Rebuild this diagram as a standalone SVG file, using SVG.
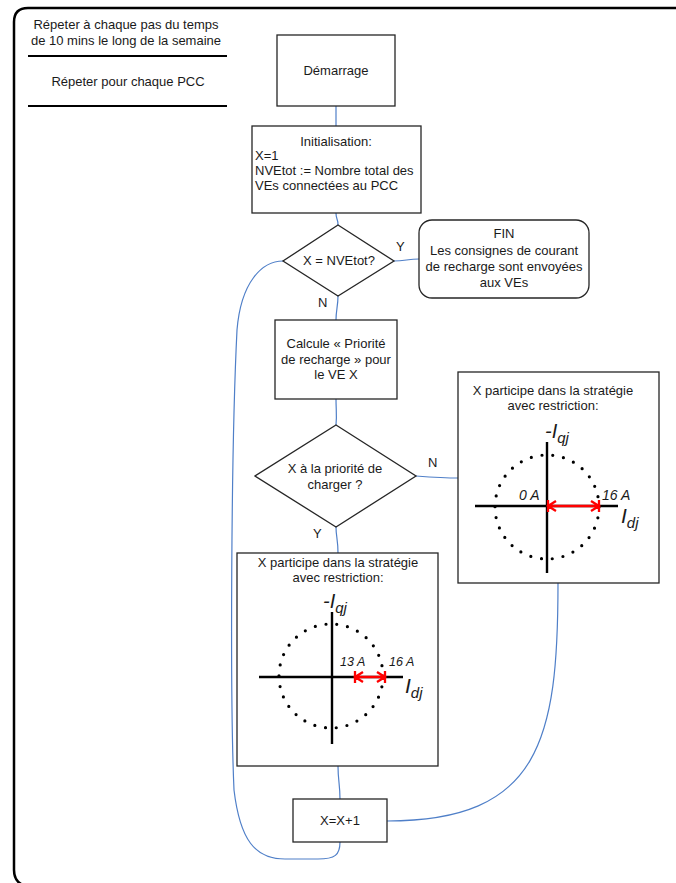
<svg xmlns="http://www.w3.org/2000/svg" width="676" height="883" viewBox="0 0 676 883">
<style>
text{font-family:"Liberation Sans",Arial,sans-serif;font-size:13px;fill:#1a1a1a}
.c{text-anchor:middle}
.box{fill:#fff;stroke:#262626;stroke-width:1.3}
.con{fill:none;stroke:#4f7fc8;stroke-width:1.2}
.axis{stroke:#000;stroke-width:2.4;fill:none}
.dots{fill:none;stroke:#000;stroke-width:3.2;stroke-linecap:round;stroke-dasharray:0 10.89}
.red{fill:none;stroke:#ff0000;stroke-width:2.3}
.it{font-style:italic}
.big{font-style:italic;font-size:20px}
.bigd{font-style:italic;font-size:21px}
.sub{font-style:italic;font-size:15px}
</style>
<g id="frame">
<path d="M676,8 L28,8 Q14,8 14,22 L14,870 Q14,883 26,886" fill="none" stroke="#000" stroke-width="2.5"/>
<text class="c" x="126" y="29">Répeter à chaque pas du temps</text>
<text class="c" x="126" y="45">de 10 mins le long de la semaine</text>
<line x1="28" y1="56" x2="227" y2="56" stroke="#000" stroke-width="2.2"/>
<text class="c" x="128" y="86">Répeter pour chaque PCC</text>
<line x1="28" y1="106" x2="227" y2="106" stroke="#000" stroke-width="2.2"/>
</g>
<g id="connectors">
<path class="con" d="M336,106 L336,126"/>
<path class="con" d="M336,213 C336,220 338,218 338,225"/>
<path class="con" d="M394,261 C405,261 408,259 419,259"/>
<path class="con" d="M338,296 C338,306 336,310 336,320"/>
<path class="con" d="M336,399 C336,410 337,415 336,425"/>
<path class="con" d="M416,476 C430,477 445,478 458,478"/>
<path class="con" d="M336,527 C336,536 338,540 338,553"/>
<path class="con" d="M338,766 C338,780 340,785 340,799"/>
<path class="con" d="M558,583 C558,740 540,821 387,821"/>
<path class="con" d="M340,842 C340,855 335,859 318,859 L285,859 C255,859 240,840 234,790 C230,700 231,450 237,330 C241,282 262,261 283,261"/>
</g>
<g id="demarrage">
<rect class="box" x="277" y="35" width="118" height="71"/>
<text class="c" x="336" y="75">Démarrage</text>
</g>
<g id="init">
<rect class="box" x="252" y="126" width="169" height="87"/>
<text class="c" x="336" y="146">Initialisation:</text>
<text x="255" y="160">X=1</text>
<text x="255" y="175">NVEtot := Nombre total des</text>
<text x="255" y="190">VEs connectées au PCC</text>
</g>
<g id="test1">
<polygon class="box" points="338,225 394,261 338,296 283,261"/>
<text class="c" x="339" y="265">X = NVEtot?</text>
<text x="396" y="251">Y</text>
<text x="318" y="307">N</text>
</g>
<g id="fin">
<rect class="box" x="419" y="220" width="170" height="78" rx="13" ry="13"/>
<text class="c" x="504" y="238">FIN</text>
<text class="c" x="504" y="255">Les consignes de courant</text>
<text class="c" x="504" y="271">de recharge sont envoyées</text>
<text class="c" x="504" y="287">aux VEs</text>
</g>
<g id="calcule">
<rect class="box" x="275" y="320" width="122" height="79"/>
<text class="c" x="336" y="348">Calcule « Priorité</text>
<text class="c" x="336" y="364">de recharge » pour</text>
<text class="c" x="336" y="379">le VE X</text>
</g>
<g id="test2">
<polygon class="box" points="336,425 416,476 336,527 255,476"/>
<text class="c" x="335" y="473">X à la priorité de</text>
<text class="c" x="335" y="489">charger ?</text>
<text x="428" y="467">N</text>
<text x="313" y="538">Y</text>
</g>
<g id="restriction-0A">
<rect class="box" x="458" y="372" width="201" height="211"/>
<text class="c" x="553" y="395">X participe dans la stratégie</text>
<text class="c" x="553" y="410">avec restriction:</text>
<line class="axis" x1="547" y1="442" x2="547" y2="573"/>
<line class="axis" x1="475" y1="506" x2="618" y2="506"/>
<circle class="dots" cx="547" cy="507" r="52"/>
<path class="red" d="M548,506 L599,506 M548,500 L548,512 M556,501 L548,506 L556,511 M599,500 L599,512 M591,501 L599,506 L591,511"/>
<text x="545" y="438"><tspan class="big">-I</tspan><tspan class="sub" dy="5">qj</tspan></text>
<text class="it" x="519" y="500" style="font-size:14px">0 A</text>
<text class="it" x="602" y="500" style="font-size:14px">16 A</text>
<text x="621" y="523"><tspan class="bigd">I</tspan><tspan class="sub" dy="5">dj</tspan></text>
</g>
<g id="restriction-13A">
<rect class="box" x="237" y="553" width="201" height="213"/>
<text class="c" x="338" y="567">X participe dans la stratégie</text>
<text class="c" x="338" y="582">avec restriction:</text>
<line class="axis" x1="332" y1="612" x2="332" y2="744"/>
<line class="axis" x1="259" y1="677" x2="403" y2="677"/>
<circle class="dots" cx="331" cy="676" r="52"/>
<path class="red" d="M355,677 L385,677 M355,671 L355,683 M363,672 L355,677 L363,682 M385,671 L385,683 M377,672 L385,677 L377,682"/>
<text x="323" y="608"><tspan class="big">-I</tspan><tspan class="sub" dy="5">qj</tspan></text>
<text class="it" x="340" y="666" style="font-size:12.5px">13 A</text>
<text class="it" x="389" y="666" style="font-size:12.5px">16 A</text>
<text x="405" y="693"><tspan class="bigd">I</tspan><tspan class="sub" dy="5">dj</tspan></text>
</g>
<g id="increment">
<rect class="box" x="293" y="799" width="94" height="43"/>
<text class="c" x="340" y="825">X=X+1</text>
</g>
</svg>
